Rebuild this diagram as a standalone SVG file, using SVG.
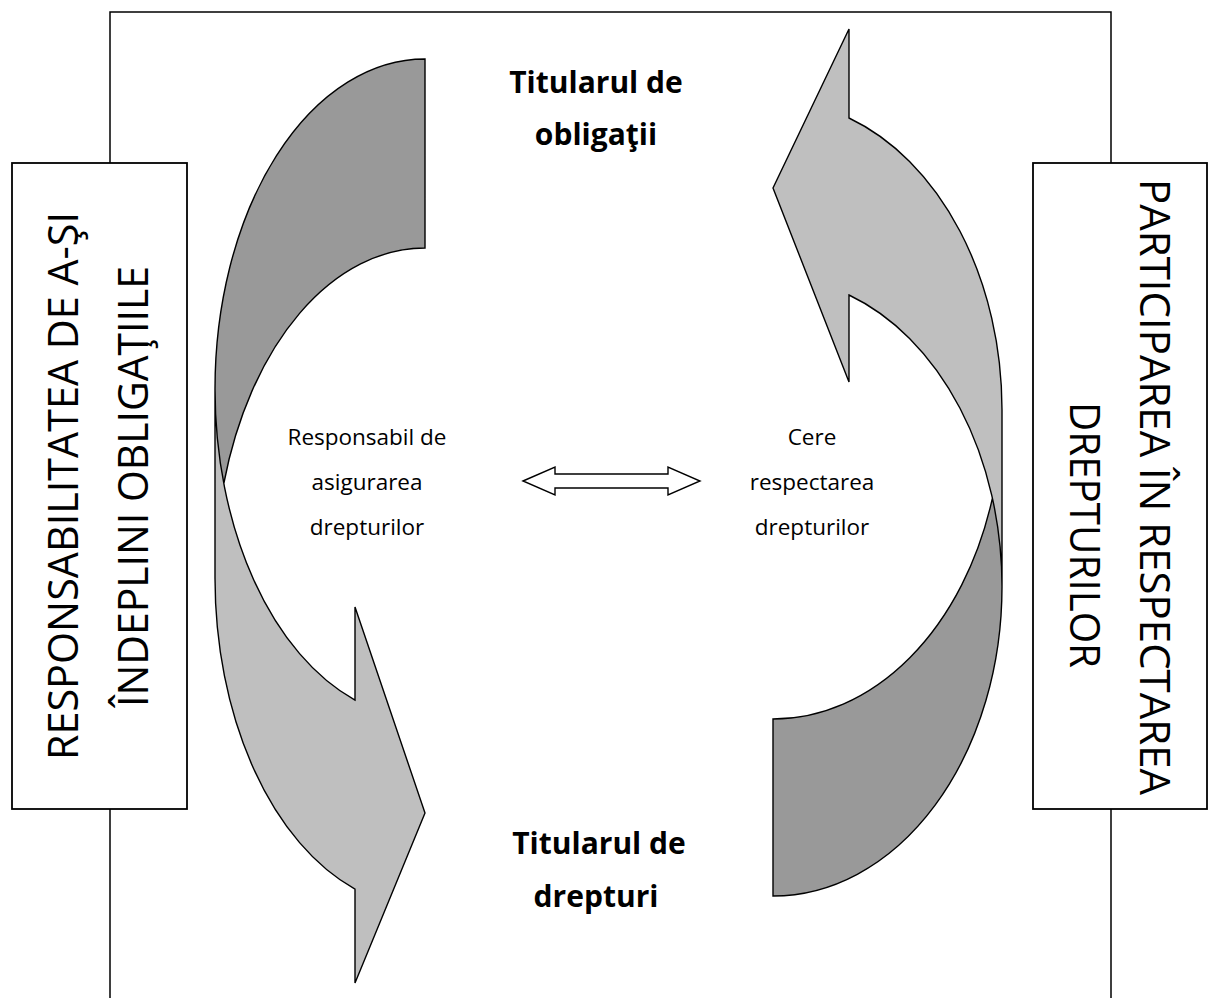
<svg xmlns="http://www.w3.org/2000/svg" width="1208" height="998" viewBox="0 0 1208 998">
<style>
.frame{fill:none;stroke:#000;stroke-width:1.5}
.box{fill:#fff;stroke:#000;stroke-width:1.8}
.light{fill:#bfbfbf;stroke:none}
.dark{fill:#999999;stroke:none}
.outline{fill:none;stroke:#000;stroke-width:1.4;stroke-linejoin:miter}
.big{font-family:"Open Sans","Liberation Sans",sans-serif;font-size:42px;fill:#000}
.head{font-family:"Open Sans","Liberation Sans",sans-serif;font-size:30px;font-weight:bold;fill:#000;text-anchor:middle}
.lbl{font-family:"Open Sans","Liberation Sans",sans-serif;font-size:22.5px;fill:#000;text-anchor:middle}
</style>
<rect width="1208" height="998" fill="#fff"/>
<g id="frame">
<polyline class="frame" points="110,998 110,12 1111,12 1111,998"/>
</g>
<g id="box-left">
<rect class="box" x="12" y="163" width="175" height="646"/>
<text class="big" text-anchor="middle" transform="translate(78,486) rotate(-90)" textLength="548" lengthAdjust="spacingAndGlyphs">RESPONSABILITATEA DE A-ŞI</text>
<text class="big" text-anchor="middle" transform="translate(148,486.5) rotate(-90)" textLength="441" lengthAdjust="spacingAndGlyphs">ÎNDEPLINI OBLIGAŢIILE</text>
</g>
<g id="box-right">
<rect class="box" x="1033" y="163" width="174" height="646"/>
<text class="big" transform="translate(1140,179) rotate(90)" textLength="616" lengthAdjust="spacingAndGlyphs">PARTICIPAREA ÎN RESPECTAREA</text>
<text class="big" transform="translate(1070,402) rotate(90)" textLength="266" lengthAdjust="spacingAndGlyphs">DREPTURILOR</text>
</g>
<g id="arrow-left">
<path class="light" d="M 215 389 A 210 330 0 0 0 355 700.1 L 355 607 L 425 813 L 355 983 L 355 889.1 A 210 330 0 0 1 215 578 Z"/>
<path class="dark" d="M 425 248 A 210 330 0 0 0 223.8 483.5 A 210 330 0 0 1 425 59 Z"/>
<path class="outline" d="M 215 389 A 210 330 0 0 0 355 700.1 L 355 607 L 425 813 L 355 983 L 355 889.1 A 210 330 0 0 1 215 578 L 215 389 A 210 330 0 0 1 425 59 L 425 248 A 210 330 0 0 0 223.8 483.5"/>
</g>
<g id="arrow-right">
<path class="light" d="M 1002 586.7 A 229 309.3 0 0 0 849 295 L 849 382 L 773 188 L 849 29 L 849 118 A 229 309.3 0 0 1 1002 409.7 Z"/>
<path class="dark" d="M 773 719 A 229 309.3 0 0 0 992.4 498.2 A 229 309.3 0 0 1 773 896 Z"/>
<path class="outline" d="M 1002 586.7 A 229 309.3 0 0 0 849 295 L 849 382 L 773 188 L 849 29 L 849 118 A 229 309.3 0 0 1 1002 409.7 L 1002 586.7 A 229 309.3 0 0 1 773 896 L 773 719 A 229 309.3 0 0 0 992.4 498.2"/>
</g>
<g id="titular-obligatii">
<text class="head" x="596" y="93">Titularul de</text>
<text class="head" x="596" y="145">obligaţii</text>
</g>
<g id="titular-drepturi">
<text class="head" x="599" y="854">Titularul de</text>
<text class="head" x="596" y="907">drepturi</text>
</g>
<g id="label-left">
<text class="lbl" x="367" y="445">Responsabil de</text>
<text class="lbl" x="367" y="490">asigurarea</text>
<text class="lbl" x="367" y="535">drepturilor</text>
</g>
<g id="label-right">
<text class="lbl" x="812" y="445">Cere</text>
<text class="lbl" x="812" y="490">respectarea</text>
<text class="lbl" x="812" y="535">drepturilor</text>
</g>
<g id="connectors">
<path class="outline" style="fill:#fff" d="M 523 481 L 555 467 L 555 474 L 668 474 L 668 467 L 700 481 L 668 495 L 668 488 L 555 488 L 555 495 Z"/>
</g>
</svg>
